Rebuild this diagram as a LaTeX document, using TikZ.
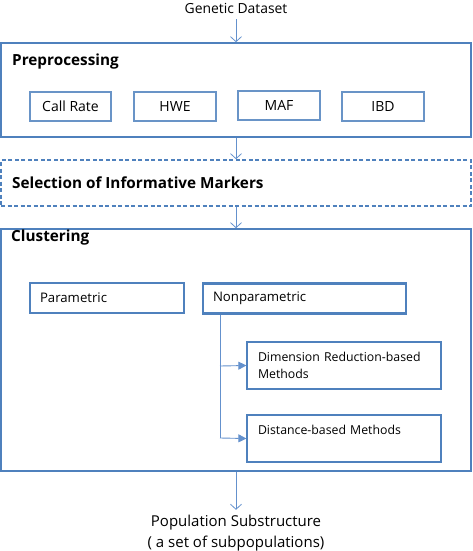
\documentclass[tikz,border=0pt]{standalone}
\usepackage{fontspec}
\setmainfont{Open Sans}
\usetikzlibrary{arrows.meta}
\definecolor{bl}{RGB}{79,129,189}
\definecolor{bla}{RGB}{100,145,205}
\tikzset{
  bigbox/.style={draw=bl,line width=1.6pt,minimum width=470pt,inner sep=0pt},
  smallbox/.style={draw=bl!85,line width=1.1pt,minimum height=29pt,inner sep=0pt,font=\fontsize{14}{16}\selectfont},
  clbox/.style={draw=bl,line width=2.2pt,minimum height=30pt,inner xsep=10pt,inner ysep=0pt,align=left,font=\fontsize{13.2}{15}\selectfont},
  mbox/.style={draw=bl,line width=1.3pt,minimum height=47pt,inner xsep=11pt,inner ysep=0pt,text width=172pt,align=left,font=\fontsize{12.3}{17}\selectfont},
  head/.style={anchor=west,inner sep=0pt,font=\fontsize{15.3}{17}\selectfont\bfseries},
  plain/.style={inner sep=0pt,align=center},
  arr/.style={draw=bla,line width=0.8pt,-{Straight Barb[length=5pt,width=11pt,line width=0.8pt]}},
  farr/.style={draw=bla,line width=0.9pt,-{Triangle[length=8pt,width=8pt]}},
  ln/.style={draw=bla,line width=0.9pt}
}
\begin{document}
\begin{tikzpicture}[x=1pt,y=-1pt]
\useasboundingbox (0,0) rectangle (473,551);
\node[plain,font=\fontsize{13.9}{16}\selectfont] (gd) at (236,8) {Genetic Dataset};
\node[bigbox,minimum height=94pt] (pre) at (236,90) {};
\node[head] (preT) at (12,62) {Preprocessing};
\node[smallbox,minimum width=81pt] (cr) at (70.5,106.5) {Call Rate};
\node[smallbox,minimum width=82pt] (hwe) at (175,106.5) {HWE};
\node[smallbox,minimum width=82pt] (maf) at (279,105.5) {MAF};
\node[smallbox,minimum width=82pt] (ibd) at (383,106.5) {IBD};
\node[bigbox,dashed,dash pattern=on 4pt off 2.5pt,minimum height=46pt] (sel) at (236,183) {};
\node[head] (selT) at (12,183) {Selection of Informative Markers};
\node[bigbox,minimum height=242pt] (clu) at (236,350) {};
\node[head] (cluT) at (11,238) {Clustering};
\node[clbox,minimum width=154pt,text width=134pt] (par) at (107,298) {Parametric};
\node[clbox,minimum width=203pt,text width=183pt] (nonp) at (304.5,298.5) {Nonparametric};
\node[mbox,minimum width=194pt] (dim) at (344,365.5) {Dimension Reduction-based\\Methods};
\node[mbox,minimum width=194pt] (dist) at (344,438.5) {Distance-based Methods\\\mbox{}};
\node[plain,font=\fontsize{15}{21}\selectfont] (pop) at (236,533) {Population Substructure\\( a set of subpopulations)};
\coordinate (j1) at (220,366);
\coordinate (j2) at (220,438);
\draw[arr] ([yshift=-6pt]gd.south) -- (pre.north);
\draw[arr] (pre.south) -- (sel.north);
\draw[arr] (sel.south) -- (clu.north);
\draw[arr] (clu.south) -- ([yshift=5pt]pop.north);
\draw[ln] (nonp.south -| j1) -- (j2);
\draw[farr] (j1) -- (dim.west);
\draw[farr] (j2) -- (dist.west);
\end{tikzpicture}
\end{document}
